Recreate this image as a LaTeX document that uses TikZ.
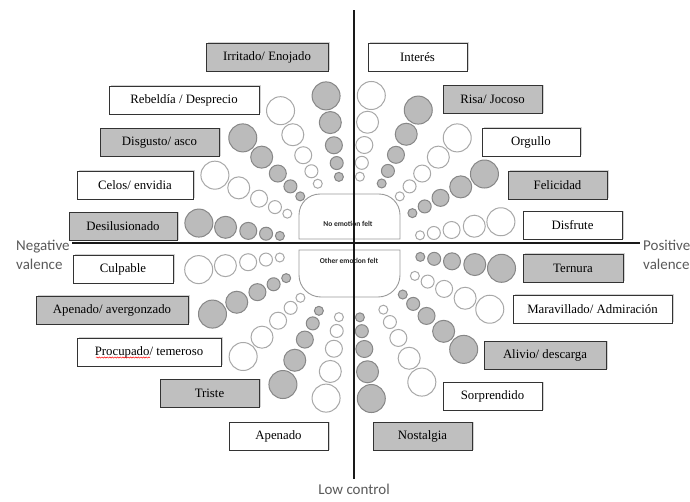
\documentclass[tikz,border=0pt]{standalone}
\usepackage{fontspec}
\setmainfont{Liberation Serif}
\newfontfamily\axisfont{Carlito}
\usetikzlibrary{shadows,decorations.pathmorphing}
\definecolor{boxgray}{HTML}{BFBFBF}
\definecolor{ballgray}{HTML}{BBBBBB}
\definecolor{balledge}{HTML}{878787}
\definecolor{ringedge}{HTML}{A8A8A8}
\definecolor{axistext}{HTML}{5A5A5A}
\definecolor{feltedge}{HTML}{9A9A9A}
\tikzset{
  emotion/.style={draw=black!80, line width=0.9pt, minimum height=28pt, inner sep=0pt,
    font=\fontsize{12.8}{14}\selectfont,
    drop shadow={shadow xshift=1.5pt, shadow yshift=1pt, fill=black!35}},
  graybox/.style={emotion, fill=boxgray},
  whitebox/.style={emotion, fill=white},
  ball/.style={fill=ballgray, draw=balledge, line width=1pt},
  ring/.style={fill=white, draw=ringedge, line width=1pt},
  felt/.style={draw=feltedge, line width=0.9pt},
  feltlabel/.style={font=\axisfont\bfseries\fontsize{7.5}{8}\selectfont, text=black!85, inner sep=0pt},
  axis/.style={line width=1.7pt, black!90},
  axislabel/.style={font=\axisfont\fontsize{15}{19}\selectfont, text=axistext, align=left, inner sep=0pt},
  spellmark/.style={red, line width=0.5pt, decorate, decoration={snake, amplitude=0.6pt, segment length=2.6pt}}
}
\begin{document}
\begin{tikzpicture}[x=1pt, y=1pt]
      \useasboundingbox (0,0) rectangle (690,-501);
      \clip (0,0) rectangle (690,-501);
      \fill[white] (0,0) rectangle (690,-501);
      \begin{scope}[shift={(350,-247)}]
        \draw[ring] (9.5:71) circle (4.5) (9.5:85) circle (6.5) (9.5:103) circle (8.5) (9.5:126) circle (11) (9.5:153) circle (14);
        \draw[ball] (28.5:71) circle (4.5) (28.5:85) circle (6.5) (28.5:103) circle (8.5) (28.5:126) circle (11) (28.5:153) circle (14);
        \draw[ring] (45.5:71) circle (4.5) (45.5:85) circle (6.5) (45.5:103) circle (8.5) (45.5:126) circle (11) (45.5:153) circle (14);
        \draw[ball] (63.5:71) circle (4.5) (63.5:85) circle (6.5) (63.5:103) circle (8.5) (63.5:126) circle (11) (63.5:153) circle (14);
        \draw[ring] (82:71) circle (4.5) (82:85) circle (6.5) (82:103) circle (8.5) (82:126) circle (11) (82:153) circle (14);
        \draw[ball] (99:71) circle (4.5) (99:85) circle (6.5) (99:103) circle (8.5) (99:126) circle (11) (99:153) circle (14);
        \draw[ring] (117:71) circle (4.5) (117:85) circle (6.5) (117:103) circle (8.5) (117:126) circle (11) (117:153) circle (14);
        \draw[ball] (134.5:71) circle (4.5) (134.5:85) circle (6.5) (134.5:103) circle (8.5) (134.5:126) circle (11) (134.5:153) circle (14);
        \draw[ring] (152:71) circle (4.5) (152:85) circle (6.5) (152:103) circle (8.5) (152:126) circle (11) (152:153) circle (14);
        \draw[ball] (171:71) circle (4.5) (171:85) circle (6.5) (171:103) circle (8.5) (171:126) circle (11) (171:153) circle (14);
        \draw[ring] (188.5:71) circle (4.5) (188.5:85) circle (6.5) (188.5:103) circle (8.5) (188.5:126) circle (11) (188.5:153) circle (14);
        \draw[ball] (206:71) circle (4.5) (206:85) circle (6.5) (206:103) circle (8.5) (206:126) circle (11) (206:153) circle (14);
        \draw[ring] (225.7:71) circle (4.5) (225.7:85) circle (6.5) (225.7:103) circle (8.5) (225.7:126) circle (11) (225.7:153) circle (14);
        \draw[ball] (244:71) circle (4.5) (244:85) circle (6.5) (244:103) circle (8.5) (244:126) circle (11) (244:153) circle (14);
        \draw[ring] (261:71) circle (4.5) (261:85) circle (6.5) (261:103) circle (8.5) (261:126) circle (11) (261:153) circle (14);
        \draw[ball] (278:71) circle (4.5) (278:85) circle (6.5) (278:103) circle (8.5) (278:126) circle (11) (278:153) circle (14);
        \draw[ring] (298:71) circle (4.5) (298:85) circle (6.5) (298:103) circle (8.5) (298:126) circle (11) (298:153) circle (14);
        \draw[ball] (318:71) circle (4.5) (318:85) circle (6.5) (318:103) circle (8.5) (318:126) circle (11) (318:153) circle (14);
        \draw[ring] (336:71) circle (4.5) (336:85) circle (6.5) (336:103) circle (8.5) (336:126) circle (11) (336:153) circle (14);
        \draw[ball] (352:71) circle (4.5) (352:85) circle (6.5) (352:103) circle (8.5) (352:126) circle (11) (352:153) circle (14);
      \end{scope}
      \draw[felt] (299,-239) -- (299,-215) arc[start angle=180, end angle=90, radius=21] -- (379,-194) arc[start angle=90, end angle=0, radius=21] -- (400,-239) -- cycle;
      \draw[felt] (299,-250) -- (299,-275) arc[start angle=180, end angle=270, radius=22] -- (378,-297) arc[start angle=270, end angle=360, radius=22] -- (400,-250) -- cycle;
      \path
        (348,-224) node[feltlabel] (nofelt) {No emotion felt}
        (349,-261) node[feltlabel] (otherfelt) {Other emotion felt};
      \path
        (267,-57) node[graybox, minimum width=122pt] (irritado) {Irritado/ Enojado}
        (417.5,-57) node[whitebox, minimum width=99pt] (interes) {Interés}
        (184,-100) node[whitebox, minimum width=150pt] (rebeldia) {Rebeldía / Desprecio}
        (492.5,-99.5) node[graybox, minimum width=99pt] (risa) {Risa/ Jocoso}
        (159.5,-142.5) node[graybox, minimum width=119pt] (disgusto) {Disgusto/ asco}
        (531,-142) node[whitebox, minimum width=98pt] (orgullo) {Orgullo}
        (135,-185) node[whitebox, minimum width=116pt] (celos) {Celos/ envidia}
        (557.5,-185) node[graybox, minimum width=99pt] (felicidad) {Felicidad}
        (123,-226.5) node[graybox, minimum width=108pt] (desilusionado) {Desilusionado}
        (572.5,-225.5) node[whitebox, minimum width=99pt] (disfrute) {Disfrute}
        (123,-269) node[whitebox, minimum width=100pt] (culpable) {Culpable}
        (573,-268) node[graybox, minimum width=100pt] (ternura) {Ternura}
        (112,-310) node[graybox, minimum width=152pt] (avergonzado) {Apenado/ avergonzado}
        (592.5,-309) node[whitebox, minimum width=159pt] (maravillado) {Maravillado/ Admiración}
        (149,-352) node[whitebox, minimum width=144pt] (procupado) {Procupado/ temeroso}
        (545,-355.5) node[graybox, minimum width=122pt] (alivio) {Alivio/ descarga}
        (209.5,-393.5) node[graybox, minimum width=99pt] (triste) {Triste}
        (492.5,-396.5) node[whitebox, minimum width=99pt] (sorprendido) {Sorprendido}
        (278.5,-436.5) node[whitebox, minimum width=99pt] (apenado) {Apenado}
        (422.5,-436.5) node[graybox, minimum width=99pt] (nostalgia) {Nostalgia};
      \draw[spellmark] (96,-357.5) -- (150,-357.5);
      \coordinate (north) at (354,-10);
      \coordinate (south) at (354,-479);
      \coordinate (west) at (72,-243);
      \coordinate (east) at (640,-243);
      \draw[axis] (west) -- (east);
      \draw[axis] (north) -- (south);
      \path
        (16,-255) node[axislabel, anchor=west] (negval) {Negative\\valence}
        (643,-255) node[axislabel, anchor=west] (posval) {Positive\\valence}
        (354,-489) node[axislabel] (lowctrl) {Low control};
    \end{tikzpicture}
\end{document}
